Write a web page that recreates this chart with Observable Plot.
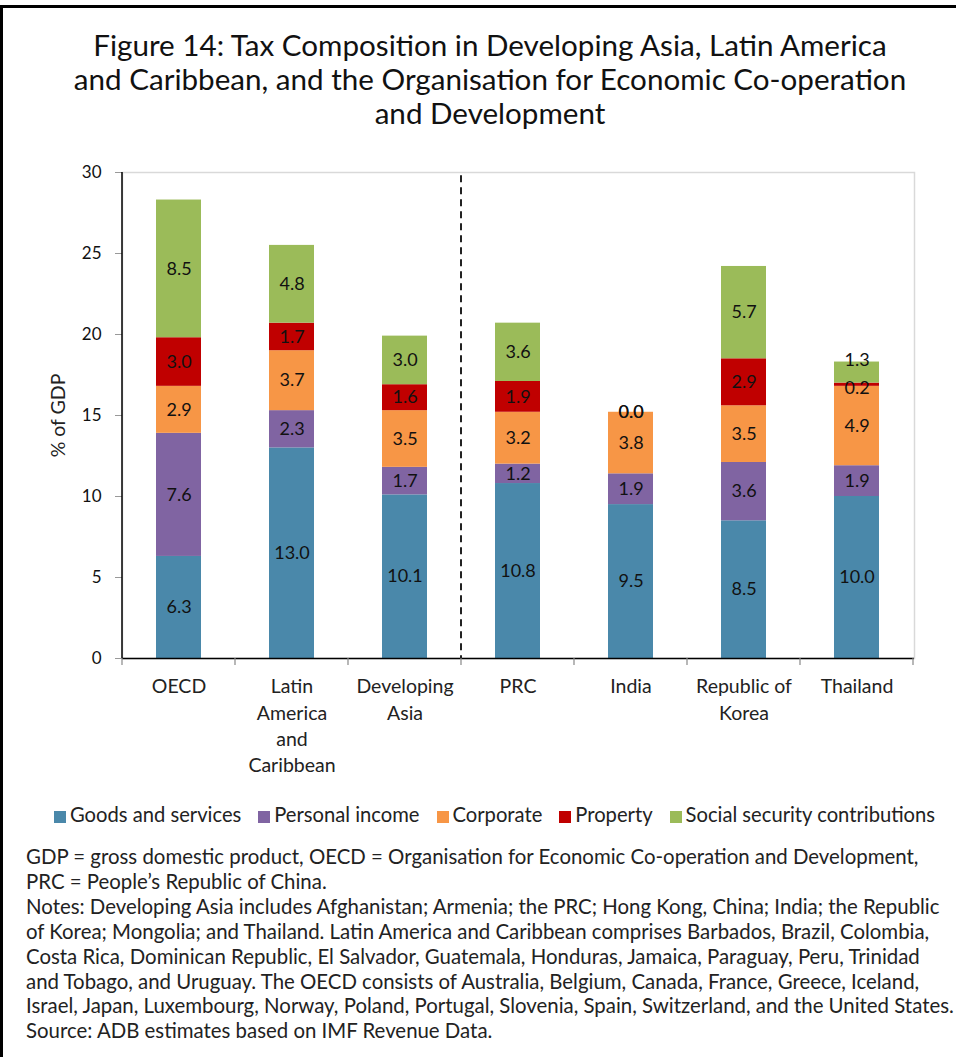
<!DOCTYPE html>
<html>
<head>
<meta charset="utf-8">
<script src="https://cdn.jsdelivr.net/npm/d3@7"></script>
<script src="https://cdn.jsdelivr.net/npm/@observablehq/plot@0.6"></script>
<style>
  body { margin:0; width:956px; height:1057px; overflow:hidden; background:#fff; font-family: Lato, "Open Sans", sans-serif; color:#111; position:relative; }
  #frame { position:absolute; left:0; top:5px; width:953px; height:1052px; border-left:3px solid #000; border-top:3px solid #000; }
  #title { position:absolute; left:20px; width:940px; top:28px; text-align:center; font-size:29.6px; line-height:34px; color:#111; }
  #chart { position:absolute; left:0; top:150px; }
  #legend { position:absolute; left:0; width:1006px; top:803px; text-align:center; font-size:20.2px; line-height:22px; white-space:nowrap; color:#222; }
  #legend span.item { margin-right:17px; }
  #legend span.sw { display:inline-block; width:12px; height:12px; margin-right:4px; vertical-align:-1px; }
  #notes { position:absolute; left:26px; top:844px; font-size:20.4px; line-height:24.9px; white-space:nowrap; color:#222; }
</style>
</head>
<body>
<div id="frame"></div>
<div id="title">Figure 14: Tax Composition in Developing Asia, Latin America<br>and Caribbean, and the Organisation for Economic Co-operation<br>and Development</div>
<div id="chart"></div>
<div id="legend"></div>
<div id="notes"></div>
<script>
const categories = ["OECD","Latin America and Caribbean","Developing Asia","PRC","India","Republic of Korea","Thailand"];
const categoryLabels = ["OECD","Latin\nAmerica\nand\nCaribbean","Developing\nAsia","PRC","India","Republic of\nKorea","Thailand"];
const seriesNames = ["Goods and services","Personal income","Corporate","Property","Social security contributions"];
const goods     = [6.3, 13.0, 10.1, 10.8, 9.5, 8.5, 10.0];
const personal  = [7.6,  2.3,  1.7,  1.2, 1.9, 3.6,  1.9];
const corporate = [2.9,  3.7,  3.5,  3.2, 3.8, 3.5,  4.9];
const property  = [3.0,  1.7,  1.6,  1.9, 0.0, 2.9,  0.2];
const social    = [8.5,  4.8,  3.0,  3.6, 0.0, 5.7,  1.3];
const colors = ["#4a88aa","#8064a2","#f79646","#c00000","#9bbb59"];
const yTicks = [0, 5, 10, 15, 20, 25, 30];
const yLabel = "% of GDP";
const dividerBefore = "PRC";
const noteLines = [
  "GDP = gross domestic product, OECD = Organisation for Economic Co-operation and Development,",
  "PRC = People\u2019s Republic of China.",
  "Notes: Developing Asia includes Afghanistan; Armenia; the PRC; Hong Kong, China; India; the Republic",
  "of Korea; Mongolia; and Thailand. Latin America and Caribbean comprises Barbados, Brazil, Colombia,",
  "Costa Rica, Dominican Republic, El Salvador, Guatemala, Honduras, Jamaica, Paraguay, Peru, Trinidad",
  "and Tobago, and Uruguay. The OECD consists of Australia, Belgium, Canada, France, Greece, Iceland,",
  "Israel, Japan, Luxembourg, Norway, Poland, Portugal, Slovenia, Spain, Switzerland, and the United States.",
  "Source: ADB estimates based on IMF Revenue Data."
];

const seriesValues = [goods, personal, corporate, property, social];
const rows = [];
categories.forEach((c, i) => {
  seriesNames.forEach((s, j) => rows.push({category: c, series: s, value: seriesValues[j][i]}));
});
const labelOf = new Map(categories.map((c, i) => [c, categoryLabels[i]]));

function guides(index, scales, values, dimensions) {
  const x = scales.x, y = scales.y;
  const step = x.step(), bw = x.bandwidth();
  const off = (step - bw) / 2;
  const bounds = categories.map(c => x(c) - off);
  bounds.push(x(categories[categories.length - 1]) + bw + off);
  const y0 = y(0);
  const g = d3.create("svg:g");
  bounds.forEach(b => {
    g.append("line").attr("x1", b).attr("x2", b).attr("y1", y0).attr("y2", y0 + 7)
      .attr("stroke", "#888").attr("stroke-width", 1.2);
  });
  const dx = x(dividerBefore) - off;
  g.append("line").attr("x1", dx).attr("x2", dx).attr("y1", y(29.8)).attr("y2", y0)
    .attr("stroke", "#222").attr("stroke-width", 2).attr("stroke-dasharray", "7,5");
  g.append("line").attr("x1", dimensions.marginLeft).attr("x2", dimensions.marginLeft)
    .attr("y1", dimensions.marginTop).attr("y2", y0).attr("stroke", "#000").attr("stroke-width", 1.5);
  return g.node();
}

const fmt = d3.format(".1f");
// labels of very thin segments are nudged apart (as in the original)
const thin = d => d.value < 0.5 && d.value > 0;
const isTopSmall = d => d.series === seriesNames[4] && d.category === "Thailand";
const label = cond => d => cond(d) ? fmt(d.value) : null;
const textBase = {x: "category", y: "value", fontSize: 18, fill: "#111"};
const chart = Plot.plot({
  width: 956,
  height: 628,
  marginLeft: 122,
  marginRight: 42,
  marginTop: 22,
  marginBottom: 120,
  style: {fontFamily: "Lato, sans-serif", fontSize: "17px", color: "#111", background: "transparent"},
  x: {domain: categories, paddingInner: 0.6, paddingOuter: 0.3, label: null},
  y: {domain: [0, 30], label: null},
  color: {domain: seriesNames, range: colors},
  marks: [
    Plot.frame({stroke: "#d9d9d9", strokeWidth: 1.5}),
    Plot.barY(rows, Plot.stackY({x: "category", y: "value", fill: "series"})),
    Plot.text(rows, Plot.stackY({...textBase, text: label(d => !thin(d) && !isTopSmall(d))})),
    Plot.text(rows, Plot.stackY({...textBase, text: label(thin), dy: 4})),
    Plot.text(rows, Plot.stackY({...textBase, text: label(isTopSmall), dy: -12})),
    Plot.axisY({ticks: yTicks, tickSize: 7, tickPadding: 14, stroke: "#999", fontSize: 17, label: null}),
    Plot.axisX({tickSize: 0, tickPadding: 16, fontSize: 19.5, lineHeight: 1.35, tickFormat: d => labelOf.get(d), label: null, fill: "#222"}),
    Plot.ruleY([0], {stroke: "#000", strokeWidth: 1.5}),
    Plot.text([yLabel], {frameAnchor: "left", textAnchor: "middle", dx: -64, rotate: -90, fontSize: 19.5, fill: "#222"}),
    guides
  ]
});
document.getElementById("chart").appendChild(chart);

const legend = document.getElementById("legend");
seriesNames.forEach((s, i) => {
  const item = document.createElement("span");
  item.className = "item";
  const sw = document.createElement("span");
  sw.className = "sw";
  sw.style.background = colors[i];
  item.appendChild(sw);
  item.appendChild(document.createTextNode(s));
  legend.appendChild(item);
});

const notes = document.getElementById("notes");
noteLines.forEach(t => {
  const d = document.createElement("div");
  d.textContent = t;
  notes.appendChild(d);
});
</script>
</body>
</html>
